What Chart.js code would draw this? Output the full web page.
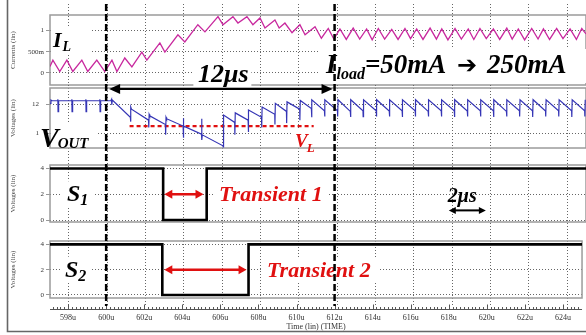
<!DOCTYPE html>
<html>
<head>
<meta charset="utf-8">
<script src="https://cdn.jsdelivr.net/npm/chart.js@4.4.0/dist/chart.umd.min.js"></script>
<style>
    html, body { margin: 0; padding: 0; background: #fff; }
    #wrap { position: relative; width: 586px; height: 335px; overflow: hidden; background: #fff; }
    #wrap canvas { position: absolute; left: 0; top: 0; }
</style>
</head>
<body>
<div id="wrap">
    <canvas id="pIL" width="586" height="335"></canvas>
    <canvas id="pVOUT" width="586" height="335"></canvas>
    <canvas id="pS1" width="586" height="335"></canvas>
    <canvas id="pS2" width="586" height="335"></canvas>
</div>
<script>
// --- data (time in us) ---
const xTicks = [598, 600, 602, 604, 606, 608, 610, 612, 614, 616, 618, 620, 622, 624];
const markerT = [600, 612];

const ilTicks = [0, 0.5, 1];
const ilLabels = ['0', '500m', '1'];
const ilT = [597.05, 597.2, 597.56, 597.93, 598.24, 598.71, 599.02, 599.49, 599.91, 600.28, 600.54, 600.95, 601.32, 601.84, 602.1, 602.78, 603.04, 603.72, 604.08, 604.76,
    605.13, 605.81, 606.07, 606.59, 606.85, 607.32, 607.63, 608.0, 608.26, 608.78, 609.0, 609.3, 609.67, 610.08, 610.35, 610.87, 611.2, 611.56, 611.85, 612.17,
    612.5, 612.86, 613.2, 613.56, 613.85, 614.17, 614.5, 614.87, 615.2, 615.56, 615.85, 616.17, 616.5, 616.87, 617.2, 617.48, 617.8, 618.17, 618.5, 618.86,
    619.15, 619.47, 619.8, 620.17, 620.5, 620.87, 621.15, 621.47, 621.8, 622.17, 622.5, 622.78, 623.1, 623.47, 623.8, 624.17, 624.5, 624.78, 625.0];
const ilV = [0.15, 0.30, 0.03, 0.30, 0.03, 0.30, 0.03, 0.30, 0.03, 0.30, 0.03, 0.35, 0.14, 0.49, 0.30, 0.71, 0.49, 0.90, 0.73, 1.14,
    0.97, 1.33, 1.14, 1.33, 1.18, 1.33, 1.14, 1.30, 1.06, 1.25, 1.06, 1.18, 0.95, 1.14, 0.90, 1.09, 0.82, 1.05, 0.80, 1.04,
    0.79, 1.06, 0.80, 1.04, 0.78, 1.05, 0.80, 1.03, 0.79, 1.05, 0.81, 1.04, 0.79, 1.06, 0.80, 1.04, 0.78, 1.05, 0.80, 1.04,
    0.79, 1.05, 0.81, 1.04, 0.79, 1.06, 0.80, 1.04, 0.78, 1.05, 0.80, 1.04, 0.79, 1.05, 0.81, 1.04, 0.79, 1.05, 0.92];

const voutTicks = [1.0, 1.2];
const voutLabels = ['1', '12'];
const voutT = [597.05, 597.10, 597.16, 597.44, 597.46, 597.47, 597.50, 598.17, 598.19, 598.20, 598.23, 598.90, 598.92, 598.93, 598.96,
    599.63, 599.65, 599.66, 599.69, 600.22, 600.26, 600.27, 600.30,
    601.24, 601.25, 601.27, 601.30, 602.19, 602.20, 602.22, 602.25, 603.07, 603.08, 603.10, 603.13, 603.99, 604.00, 604.01, 604.03,
    604.95, 604.96, 604.97, 604.99, 606.07, 606.08, 606.10, 606.68, 606.69, 606.71, 607.38, 607.39, 607.41, 608.08, 608.09, 608.11,
    608.77, 608.78, 608.80, 609.38, 609.39, 609.41, 610.07, 610.08, 610.10, 610.68, 610.69, 610.71,
    611.36, 611.37, 611.39, 612.04, 612.05, 612.07, 612.71, 612.72, 612.74, 613.37, 613.38, 613.40, 614.06, 614.07, 614.09,
    614.74, 614.75, 614.77, 615.41, 615.42, 615.44, 616.09, 616.10, 616.12, 616.77, 616.78, 616.80, 617.45, 617.46, 617.48,
    618.13, 618.14, 618.16, 618.81, 618.82, 618.84, 619.49, 619.50, 619.52, 620.17, 620.18, 620.20, 620.85, 620.86, 620.88,
    621.53, 621.54, 621.56, 622.21, 622.22, 622.24, 622.89, 622.90, 622.92, 623.57, 623.58, 623.60, 624.25, 624.26, 624.28,
    624.93, 624.94, 624.96];
const voutV = [1.205, 1.228, 1.223, 1.223, 1.233, 1.149, 1.223, 1.223, 1.233, 1.149, 1.223, 1.223, 1.233, 1.149, 1.223,
    1.223, 1.233, 1.149, 1.223, 1.223, 1.233, 1.195, 1.228,
    1.11, 1.08, 1.18, 1.165, 1.09, 1.04, 1.13, 1.12, 1.06, 0.99, 1.11, 1.10, 1.05, 1.103, 0.97, 1.05,
    0.995, 1.10, 0.955, 0.99, 0.915, 0.908, 1.125, 1.075, 0.99, 1.14, 1.09, 1.01, 1.16, 1.11, 1.04, 1.18,
    1.13, 1.06, 1.205, 1.15, 1.07, 1.215, 1.165, 1.09, 1.225, 1.17, 1.11, 1.23,
    1.155, 1.115, 1.23, 1.155, 1.115, 1.23, 1.150, 1.112, 1.23, 1.155, 1.115, 1.23, 1.155, 1.115, 1.23,
    1.152, 1.115, 1.23, 1.155, 1.112, 1.23, 1.155, 1.115, 1.23, 1.150, 1.115, 1.23, 1.155, 1.115, 1.23,
    1.155, 1.112, 1.23, 1.152, 1.115, 1.23, 1.155, 1.115, 1.23, 1.155, 1.112, 1.23, 1.150, 1.115, 1.23,
    1.155, 1.115, 1.23, 1.155, 1.112, 1.23, 1.152, 1.115, 1.23, 1.155, 1.115, 1.23, 1.155, 1.112, 1.23,
    1.155, 1.115, 1.23];
const vlT = [601.2, 610.8];
const vlV = [1.05, 1.05];

const sTicks = [0, 2, 4];
const sLabels = ['0', '2', '4'];
const s1T = [597.05, 602.95, 602.95, 605.22, 605.22, 625];
const s1V = [4, 4, 0, 0, 4, 4];
const s2T = [597.05, 602.95, 602.95, 607.48, 607.48, 625];
const s2V = [4, 4, 0, 0, 4, 4];
const stepT = [618, 620];

const xMin = 597.05, xMax = 625;
const serif = "'Liberation Serif', 'DejaVu Serif', serif";
const charts = [];

const pts = (ts, vs) => ts.map((t, i) => ({ x: t, y: vs[i] }));

// --- plugins ---
const frame = {
    id: 'frame',
    beforeDatasetsDraw(chart) {
        const a = chart.chartArea, ctx = chart.ctx;
        ctx.save();
        ctx.strokeStyle = '#9b9b9b';
        ctx.lineWidth = 1.5;
        ctx.strokeRect(a.left, a.top, a.right - a.left, a.bottom - a.top);
        ctx.restore();
    }
};

// vertical grid runs through all panels
const vgrid = {
    id: 'vgrid',
    beforeDatasetsDraw(chart) {
        const x = chart.scales.x, ctx = chart.ctx;
        ctx.save();
        ctx.strokeStyle = '#666';
        ctx.lineWidth = 1;
        ctx.setLineDash([1, 2]);
        xTicks.forEach(t => {
            const px = Math.round(x.getPixelForValue(t)) + 0.5;
            ctx.beginPath(); ctx.moveTo(px, 4); ctx.lineTo(px, 306); ctx.stroke();
        });
        ctx.restore();
    }
};

function arrow(ctx, x1, x2, y, color, lw, hl, hw) {
    ctx.save();
    ctx.strokeStyle = color; ctx.fillStyle = color; ctx.lineWidth = lw;
    ctx.beginPath(); ctx.moveTo(x1 + hl * 0.8, y); ctx.lineTo(x2 - hl * 0.8, y); ctx.stroke();
    [[x1, 1], [x2, -1]].forEach(([xe, d]) => {
        ctx.beginPath();
        ctx.moveTo(xe, y); ctx.lineTo(xe + d * hl, y - hw); ctx.lineTo(xe + d * hl, y + hw);
        ctx.closePath(); ctx.fill();
    });
    ctx.restore();
}

function txt(ctx, s, x, y, size, color, fam) {
    ctx.font = 'italic bold ' + size + 'px ' + (fam || serif);
    ctx.fillStyle = color;
    ctx.textAlign = 'left';
    ctx.textBaseline = 'alphabetic';
    ctx.fillText(s, x, y);
    return x + ctx.measureText(s).width;
}

function wipe(ctx, x, y, w, h) {
    ctx.fillStyle = '#fff';
    ctx.fillRect(x, y, w, h);
}

const overlay = {
    id: 'overlay',
    afterDraw(chart) {
        const ctx = chart.ctx, x = chart.scales.x;
        const yS1 = charts[2].scales.y, yS2 = chart.scales.y;
        const a = chart.chartArea;
        ctx.save();

        // outer window frame
        ctx.strokeStyle = '#666'; ctx.lineWidth = 1.6;
        ctx.beginPath(); ctx.moveTo(7.5, 0); ctx.lineTo(7.5, 331.5); ctx.lineTo(586, 331.5); ctx.stroke();

        // time ruler
        const ry = a.bottom + 11.5;
        ctx.strokeStyle = '#555'; ctx.lineWidth = 1;
        ctx.beginPath(); ctx.moveTo(a.left, ry); ctx.lineTo(a.right, ry); ctx.stroke();
        for (let t = 597.2; t <= xMax; t += 0.2) {
            const px = Math.round(x.getPixelForValue(t)) + 0.5;
            ctx.beginPath(); ctx.moveTo(px, ry); ctx.lineTo(px, ry - 2.5); ctx.stroke();
        }
        xTicks.forEach(t => {
            const px = Math.round(x.getPixelForValue(t)) + 0.5;
            ctx.beginPath(); ctx.moveTo(px, ry); ctx.lineTo(px, ry - 5); ctx.stroke();
        });

        // labels with white boxes
        wipe(ctx, 51, 26, 40, 28);
        let e = txt(ctx, 'I', 53, 47, 22, '#000');
        txt(ctx, 'L', e + 1, 51, 14, '#000');

        const m0 = x.getPixelForValue(markerT[0]), m1 = x.getPixelForValue(markerT[1]);
        wipe(ctx, (m0 + m1) / 2 - 27, 62, 58, 24);
        ctx.font = 'italic bold 26px ' + serif;
        ctx.fillStyle = '#000'; ctx.textAlign = 'center';
        ctx.fillText('12\u03bcs', (m0 + m1) / 2 + 3, 82);

        wipe(ctx, 318, 49, 268, 34);
        e = txt(ctx, 'I', 326, 73, 27, '#000');
        e = txt(ctx, 'load', e, 79, 16, '#000');
        txt(ctx, '=50mA', e, 73, 27, '#000');
        ctx.font = 'bold 24px "DejaVu Sans"';
        ctx.textAlign = 'left';
        ctx.fillText('\u2794', 457, 73);
        txt(ctx, '250mA', 487, 73, 27, '#000');

        wipe(ctx, 51, 122, 46, 25);
        e = txt(ctx, 'V', 40, 147, 28, '#000');
        txt(ctx, 'OUT', e - 1, 148, 15, '#000');

        wipe(ctx, 293, 129, 25, 17);
        e = txt(ctx, 'V', 295, 147, 19, '#e01010');
        txt(ctx, 'L', e - 1, 152, 13, '#e01010');

        const y1 = yS1.getPixelForValue(2), y2 = yS2.getPixelForValue(2);
        wipe(ctx, 62, y1 - 13, 32, 26);
        e = txt(ctx, 'S', 67, y1 + 7, 24, '#000');
        txt(ctx, '1', e, y1 + 11, 16, '#000');
        wipe(ctx, 215, y1 - 12, 114, 24);
        txt(ctx, 'Transient 1', 219, y1 + 7, 22, '#e01010');

        wipe(ctx, 60, y2 - 13, 32, 26);
        e = txt(ctx, 'S', 65, y2 + 7, 24, '#000');
        txt(ctx, '2', e, y2 + 11, 16, '#000');
        wipe(ctx, 263, y2 - 12, 116, 24);
        txt(ctx, 'Transient 2', 267, y2 + 7, 22, '#e01010');

        // 2us scale
        txt(ctx, '2\u03bcs', x.getPixelForValue(stepT[0]) - 1, y1 + 8, 20, '#000');
        arrow(ctx, x.getPixelForValue(stepT[0]), x.getPixelForValue(stepT[1]) - 1, yS1.getPixelForValue(0.75), '#000', 2, 7, 3.5);

        // transient arrows
        arrow(ctx, x.getPixelForValue(s1T[1]) + 2, x.getPixelForValue(s1T[3]) - 2, y1, '#e01010', 2.5, 8, 4.5);
        arrow(ctx, x.getPixelForValue(s2T[1]) + 2, x.getPixelForValue(s2T[3]) - 2, y2, '#e01010', 2.5, 8, 4.5);

        // dashed markers
        ctx.strokeStyle = '#000'; ctx.lineWidth = 2.5; ctx.setLineDash([7, 3]);
        markerT.forEach(t => {
            const px = x.getPixelForValue(t);
            ctx.beginPath(); ctx.moveTo(px, 4); ctx.lineTo(px, 306); ctx.stroke();
        });
        ctx.setLineDash([]);

        // 12us span arrow
        arrow(ctx, m0 + 3, m1 - 2, charts[1].chartArea.top + 1, '#000', 2.2, 11, 5);

        ctx.restore();
    }
};

function makePanel(id, o) {
    const bottom = !!o.bottom;
    const c = new Chart(document.getElementById(id), {
        type: 'line',
        data: { datasets: o.datasets },
        options: {
            responsive: false,
            animation: false,
            events: [],
            layout: { padding: { top: o.padTop, bottom: o.padBottom, left: 0, right: 0 } },
            plugins: { legend: { display: false }, tooltip: { enabled: false } },
            elements: { point: { radius: 0 }, line: { tension: 0 } },
            scales: {
                x: {
                    type: 'linear', min: xMin, max: xMax,
                    afterBuildTicks: s => { s.ticks = xTicks.map(v => ({ value: v })); },
                    afterFit: s => { s.height = bottom ? 37 : 0; },
                    grid: { display: false, drawTicks: false },
                    border: { display: false },
                    ticks: { display: bottom, padding: 15, autoSkip: false, maxRotation: 0, color: '#333', font: { family: serif, size: 8 }, callback: v => v + 'u' },
                    title: { display: bottom, text: 'Time (lin) (TIME)', color: '#333', font: { family: serif, size: 8 }, padding: { top: 0, bottom: 3 } }
                },
                y: {
                    min: o.min, max: o.max,
                    afterBuildTicks: s => { s.ticks = o.ticks.map(v => ({ value: v })); },
                    afterFit: s => { s.width = 50; },
                    grid: { color: '#666', lineWidth: 1, tickLength: 4, tickColor: '#999' },
                    border: { display: false, dash: [1, 2] },
                    ticks: { padding: o.labelPad || 2, color: '#333', font: { family: serif, size: 7 }, callback: (v, i) => o.labels[i] },
                    title: { display: true, text: o.title, color: '#444', font: { family: serif, size: 7 }, padding: { top: 9, bottom: 0 } }
                }
            }
        },
        plugins: [frame].concat(o.plugins || [])
    });
    charts.push(c);
    return c;
}

makePanel('pIL', {
    padTop: 15, padBottom: 250, min: -0.29, max: 1.37,
    ticks: ilTicks, labels: ilLabels, title: 'Currents (lin)',
    plugins: [vgrid],
    datasets: [{ data: pts(ilT, ilV), borderColor: '#c8289e', borderWidth: 1.3 }]
});

makePanel('pVOUT', {
    padTop: 88, padBottom: 187, min: 0.90, max: 1.31, labelPad: 7,
    ticks: voutTicks, labels: voutLabels, title: 'Voltages (lin)',
    datasets: [
        { data: pts(voutT, voutV), borderColor: '#3535b5', borderWidth: 1.2 },
        { data: pts(vlT, vlV), borderColor: '#e01010', borderWidth: 2.2, borderDash: [4, 3] }
    ]
});

makePanel('pS1', {
    padTop: 165, padBottom: 113, min: -0.15, max: 4.27,
    ticks: sTicks, labels: sLabels, title: 'Voltages (lin)',
    datasets: [{ data: pts(s1T, s1V), borderColor: '#000', borderWidth: 2.6 }]
});

makePanel('pS2', {
    padTop: 241, padBottom: 0, min: -0.24, max: 4.27, bottom: true,
    ticks: sTicks, labels: sLabels, title: 'Voltages (lin)',
    plugins: [overlay],
    datasets: [{ data: pts(s2T, s2V), borderColor: '#000', borderWidth: 2.6 }]
});
</script>
</body>
</html>
